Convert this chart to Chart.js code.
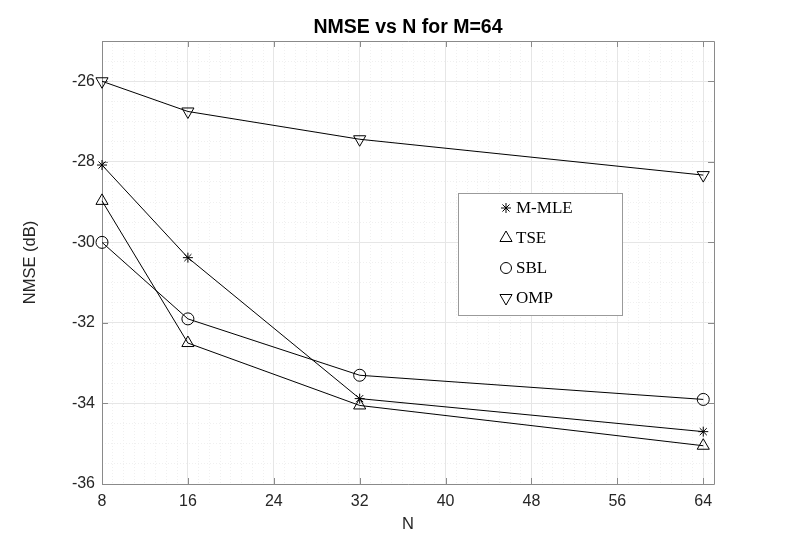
<!DOCTYPE html>
<html><head><meta charset="utf-8">
<script src="https://cdn.jsdelivr.net/npm/chart.js@4.4.0/dist/chart.umd.min.js"></script>
<style>html,body{margin:0;padding:0;background:#fff}</style>
</head><body>
<canvas id="c" width="789" height="544"></canvas>
<script>
// ---- data ----
const nValues = [8, 16, 32, 64];
const mmleValues = [-28.08, -30.38, -33.88, -34.70];
const tseValues = [-28.97, -32.50, -34.05, -35.05];
const sblValues = [-30.00, -31.90, -33.30, -33.90];
const ompValues = [-26.00, -26.75, -27.44, -28.33];
const seriesLabels = ['M-MLE', 'TSE', 'SBL', 'OMP'];
const xTickValues = [8, 16, 24, 32, 40, 48, 56, 64];
const yTickValues = [-36, -34, -32, -30, -28, -26];
const chartTitle = 'NMSE vs N for M=64';
const xAxisTitle = 'N';
const yAxisTitle = 'NMSE (dB)';

// ---- styles ----
const markerStyles = [
  {pointStyle: 'star', rotation: 0, radius: 5, legendRadius: 5},
  {pointStyle: 'triangle', rotation: 0, radius: 7, legendRadius: 7},
  {pointStyle: 'circle', rotation: 0, radius: 6, legendRadius: 5.5},
  {pointStyle: 'triangle', rotation: 180, radius: 7, legendRadius: 7}
];
const axisColor = '#8a8a8a';
const textColor = '#262626';

function toPoints(vals) { return nValues.map((n, i) => ({x: n, y: vals[i]})); }
const allSeries = [mmleValues, tseValues, sblValues, ompValues];

const datasets = allSeries.map((vals, i) => ({
  label: seriesLabels[i],
  data: toPoints(vals),
  borderColor: '#000',
  borderWidth: 1,
  pointStyle: markerStyles[i].pointStyle,
  pointRotation: markerStyles[i].rotation,
  pointRadius: markerStyles[i].radius,
  pointHoverRadius: markerStyles[i].radius,
  pointBorderColor: '#000',
  pointBackgroundColor: 'rgba(0,0,0,0)',
  pointBorderWidth: 1,
  fill: false,
  tension: 0,
  clip: false
}));

const framePlugin = {
  id: 'frame',
  beforeDatasetsDraw(chart) {
    const ctx = chart.ctx, a = chart.chartArea;
    const xs = chart.scales.x, ys = chart.scales.y;
    ctx.save();
    ctx.strokeStyle = axisColor;
    ctx.lineWidth = 1;
    ctx.beginPath();
    ctx.rect(Math.round(a.left) + 0.5, Math.round(a.top) + 0.5, Math.round(a.right - a.left), Math.round(a.bottom - a.top));
    const tl = 6;
    xTickValues.forEach(v => {
      const px = Math.round(xs.getPixelForValue(v)) + 0.5;
      ctx.moveTo(px, a.bottom); ctx.lineTo(px, a.bottom - tl);
      ctx.moveTo(px, a.top); ctx.lineTo(px, a.top + tl);
    });
    yTickValues.forEach(v => {
      const py = Math.round(ys.getPixelForValue(v)) + 0.5;
      ctx.moveTo(a.left, py); ctx.lineTo(a.left + tl, py);
      ctx.moveTo(a.right, py); ctx.lineTo(a.right - tl, py);
    });
    ctx.stroke();
    ctx.restore();
  },
  afterDraw(chart) {
    const ctx = chart.ctx, a = chart.chartArea;
    const bx = Math.round(a.left + 356), by = Math.round(a.top + 152), bw = 164, bh = 122;
    ctx.save();
    ctx.fillStyle = '#fff';
    ctx.fillRect(bx, by, bw, bh);
    ctx.strokeStyle = '#9a9a9a';
    ctx.lineWidth = 1;
    ctx.strokeRect(bx + 0.5, by + 0.5, bw, bh);
    chart.data.datasets.forEach((ds, i) => {
      const y = by + 15 + i * 30;
      ctx.strokeStyle = '#000';
      ctx.fillStyle = 'rgba(0,0,0,0)';
      Chart.helpers.drawPoint(ctx, {
        pointStyle: ds.pointStyle,
        rotation: ds.pointRotation,
        radius: markerStyles[i].legendRadius,
        borderWidth: 1
      }, bx + 48, y);
      ctx.fillStyle = '#000';
      ctx.font = '17px "Liberation Serif", serif';
      ctx.textBaseline = 'middle';
      ctx.textAlign = 'left';
      ctx.fillText(ds.label, bx + 58, y + 1);
    });
    ctx.restore();
  }
};

new Chart(document.getElementById('c'), {
  type: 'line',
  data: {datasets},
  plugins: [framePlugin],
  options: {
    responsive: false,
    animation: false,
    layout: {padding: {left: 0, right: 75, top: 0, bottom: 0}},
    plugins: {
      legend: {display: false},
      tooltip: {enabled: false},
      title: {
        display: true,
        text: chartTitle,
        fullSize: false,
        color: '#000',
        font: {family: 'Liberation Sans', size: 19.5, weight: 'bold'},
        padding: {top: 16, bottom: 1.6}
      }
    },
    scales: {
      xMinor: {
        type: 'linear', position: 'bottom', min: 8, max: 65,
        ticks: {display: false, stepSize: 1},
        grid: {color: '#f0f0f0', drawTicks: false, lineWidth: 1},
        border: {display: false, dash: [1, 2]},
        afterFit(s) { s.height = 0; }
      },
      yMinor: {
        type: 'linear', position: 'left', min: -36, max: -25,
        ticks: {display: false, stepSize: 0.5},
        grid: {color: '#f0f0f0', drawTicks: false, lineWidth: 1},
        border: {display: false, dash: [1, 2]},
        afterFit(s) { s.width = 0; }
      },
      x: {
        type: 'linear', position: 'bottom', min: 8, max: 65,
        afterBuildTicks(s) { s.ticks = xTickValues.map(v => ({value: v})); },
        ticks: {color: textColor, font: {family: 'Liberation Sans', size: 16}, padding: 8, maxRotation: 0, autoSkip: false},
        grid: {color: '#e6e6e6', drawTicks: false},
        border: {display: false},
        title: {display: true, text: xAxisTitle, color: textColor, font: {family: 'Liberation Sans', size: 16.5}, padding: {top: 0, bottom: 10}},
        afterFit(s) { s.height = 60; }
      },
      y: {
        type: 'linear', position: 'left', min: -36, max: -25,
        afterBuildTicks(s) { s.ticks = yTickValues.map(v => ({value: v})); },
        ticks: {color: textColor, font: {family: 'Liberation Sans', size: 16}, padding: 7, autoSkip: false},
        grid: {color: '#e6e6e6', drawTicks: false},
        border: {display: false},
        title: {display: true, text: yAxisTitle, color: textColor, font: {family: 'Liberation Sans', size: 16.5}, padding: {top: 21, bottom: 0}},
        afterFit(s) { s.width = 102; }
      }
    }
  }
});
</script>
</body></html>
